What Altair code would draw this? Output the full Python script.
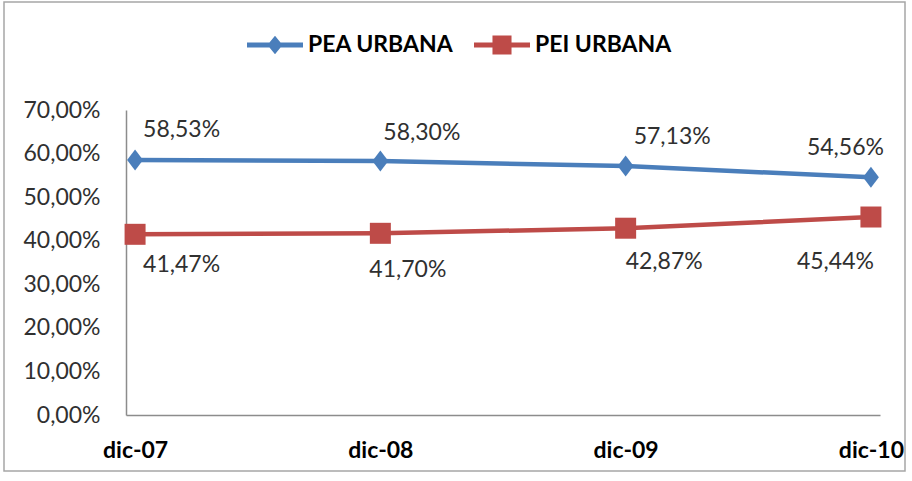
import altair as alt
import pandas as pd

# Data
periodos = ["dic-07", "dic-08", "dic-09", "dic-10"]
pea_urbana = [58.53, 58.30, 57.13, 54.56]
pei_urbana = [41.47, 41.70, 42.87, 45.44]
series = ["PEA URBANA", "PEI URBANA"]
y_ticks = [0, 10, 20, 30, 40, 50, 60, 70]

rows = []
for nombre, valores in zip(series, [pea_urbana, pei_urbana]):
    for periodo, valor in zip(periodos, valores):
        rows.append({"periodo": periodo, "serie": nombre, "valor": valor})
df = pd.DataFrame(rows)

# Styles
BLUE = "#4A7EBB"
RED = "#BE4B48"
FONT = "Lato"
TEXT = "#303030"
AXIS_LINE = "#8C8C8C"

DIAMOND = "M0,-1L0.76,0L0,1L-0.76,0Z"
SQUARE = "M-1,-1H1V1H-1Z"
LEG_DIAMOND = "M-1,-0.09H1V0.09H-1Z M0,-0.33L0.27,0L0,0.33L-0.27,0Z"
LEG_SQUARE = "M-1,-0.09H1V0.09H-1Z M-0.34,-0.34H0.34V0.34H-0.34Z"

pct = "replace(format(datum.valor, '.2f'), '.', ',') + '%'"

base = alt.Chart(df).encode(
    x=alt.X(
        "periodo:N",
        sort=periodos,
        scale=alt.Scale(type="point", padding=0.037),
        axis=alt.Axis(
            title=None, labelAngle=0, ticks=False,
            domainColor=AXIS_LINE, domainWidth=1.5,
            labelFont=FONT, labelFontSize=23, labelFontWeight="bold",
            labelColor="#000000", labelPadding=24,
        ),
    ),
    y=alt.Y(
        "valor:Q",
        scale=alt.Scale(domain=[0, 70], nice=False),
        axis=alt.Axis(
            title=None, values=y_ticks, grid=False, ticks=False,
            domainColor=AXIS_LINE, domainWidth=1.5,
            labelExpr="replace(format(datum.value, '.2f'), '.', ',') + '%'",
            labelPadding=26, labelFont=FONT, labelFontSize=23,
            labelColor=TEXT, labelBaseline="middle",
        ),
    ),
)


def serie_f(nombre):
    return alt.datum.serie == nombre


lines = [
    base.transform_filter(serie_f(series[0])).mark_line(color=BLUE, strokeWidth=4.5),
    base.transform_filter(serie_f(series[1])).mark_line(color=RED, strokeWidth=4.5),
]
points = [
    base.transform_filter(serie_f(series[0])).mark_point(
        shape=DIAMOND, filled=True, color=BLUE, size=441, opacity=1),
    base.transform_filter(serie_f(series[1])).mark_point(
        shape=SQUARE, filled=True, color=RED, size=441, opacity=1),
]

leg = dict(
    title=None, orient="none", legendX=121, legendY=-93, direction="horizontal",
    symbolSize=3136, symbolOpacity=1, symbolStrokeWidth=0,
    labelFont=FONT, labelFontSize=23, labelFontWeight="bold", labelColor="#000000",
    labelOffset=5, columnPadding=20, padding=0,
)
legend_layer = base.mark_point(filled=True, opacity=0, size=10).encode(
    color=alt.Color("serie:N", scale=alt.Scale(domain=series, range=[BLUE, RED]),
                    legend=alt.Legend(**leg)),
    shape=alt.Shape("serie:N", scale=alt.Scale(domain=series, range=[LEG_DIAMOND, LEG_SQUARE]),
                    legend=alt.Legend(**leg)),
)

# Value labels: (serie, periodo, dx, dy, align)
label_specs = [
    (series[0], "dic-07", 8, -30, "left"),
    (series[0], "dic-08", 3, -28, "left"),
    (series[0], "dic-09", 8, -29, "left"),
    (series[0], "dic-10", 13, -29, "right"),
    (series[1], "dic-07", 8, 31, "left"),
    (series[1], "dic-08", -11, 37, "left"),
    (series[1], "dic-09", 0, 34, "left"),
    (series[1], "dic-10", 3, 45, "right"),
]
labels = [
    base.transform_filter((alt.datum.serie == s) & (alt.datum.periodo == p))
    .transform_calculate(txt=pct)
    .mark_text(align=a, baseline="middle", dx=dx, dy=dy, font=FONT, fontSize=23, color=TEXT)
    .encode(text="txt:N")
    for s, p, dx, dy, a in label_specs
]

frame = alt.Chart(pd.DataFrame({"marco": [1]})).mark_rect(
    fillOpacity=0, stroke="#A6A6A6", strokeWidth=1.5
).encode(x=alt.value(-122), x2=alt.value(779), y=alt.value(-108), y2=alt.value(361))

chart = alt.layer(frame, *lines, *points, legend_layer, *labels).properties(
    width=754, height=305,
    autosize=alt.AutoSizeParams(type="none"),
    padding={"left": 126, "top": 110, "right": 32, "bottom": 66},
).configure_view(stroke=None)

chart.save("out.html", embed_options={"renderer": "svg", "actions": False})
